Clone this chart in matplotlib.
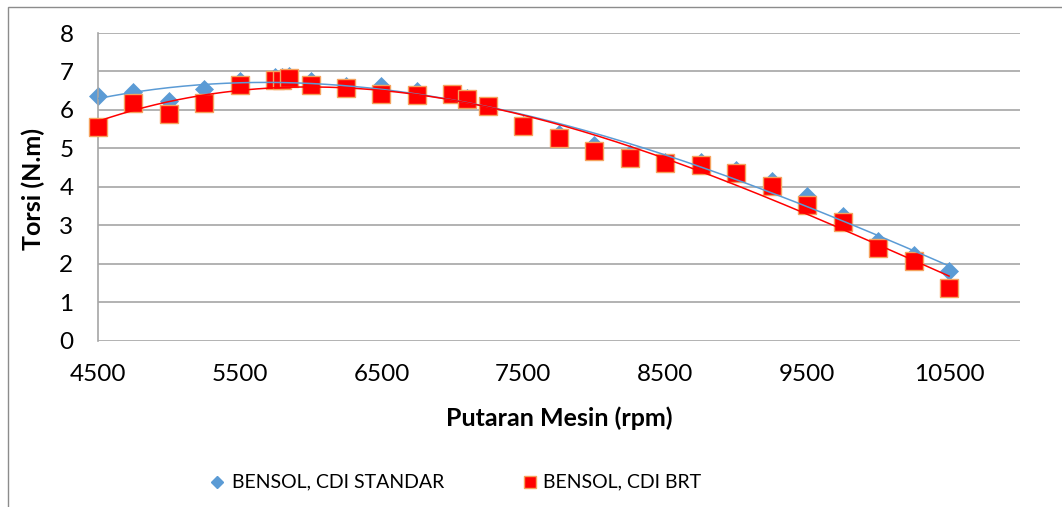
import numpy as np
import matplotlib
matplotlib.use("Agg")
import matplotlib.pyplot as plt
from matplotlib.lines import Line2D
from matplotlib.patches import Rectangle

rpm = [4500, 4750, 5000, 5250, 5500, 5750, 5800, 5850, 6000, 6250, 6500, 6750,
       7000, 7100, 7250, 7500, 7750, 8000, 8250, 8500, 8750, 9000, 9250, 9500,
       9750, 10000, 10250, 10500]
torsi_standar = [6.37, 6.47, 6.22, 6.55, 6.76, 6.85, 6.85, 6.87, 6.74, 6.63, 6.61, 6.49,
                 6.41, 6.30, 6.09, 5.60, 5.37, 5.10, 4.85, 4.65, 4.65, 4.44, 4.15, 3.76,
                 3.24, 2.59, 2.24, 1.82]
torsi_brt = [5.55, 6.19, 5.89, 6.19, 6.66, 6.79, 6.79, 6.83, 6.66, 6.57, 6.42, 6.40,
             6.42, 6.29, 6.09, 5.59, 5.27, 4.94, 4.75, 4.62, 4.56, 4.36, 4.01, 3.52,
             3.08, 2.42, 2.08, 1.38]
label_standar = "BENSOL, CDI STANDAR"
label_brt = "BENSOL, CDI BRT"
x_ticks = [4500, 5500, 6500, 7500, 8500, 9500, 10500]
y_ticks = [0, 1, 2, 3, 4, 5, 6, 7, 8]

plt.rcParams['font.family'] = ['Lato', 'DejaVu Sans']

W, H = 1062, 507
fig = plt.figure(figsize=(W / 100, H / 100), dpi=100)
fig.patch.set_facecolor('white')

# chart border
fig.add_artist(Rectangle((8 / W, -0.1), 1.2, 1 - 7 / H + 0.1, transform=fig.transFigure,
                         fill=False, edgecolor='#8c8c8c', linewidth=1.0))

left, right = 97.7 / W, 1020 / W
bottom, top = 1 - 340.7 / H, 1 - 33 / H
ax = fig.add_axes([left, bottom, right - left, top - bottom])

blue = '#5B9BD5'
red = '#FF0000'
orange_edge = '#F5A25D'

x = np.array(rpm, dtype=float)
xs = np.linspace(x.min(), x.max(), 300)
for vals, col in ((torsi_standar, blue), (torsi_brt, red)):
    c = np.polyfit(x, np.array(vals), 3)
    ax.plot(xs, np.polyval(c, xs), color=col, lw=1.1, zorder=4)

ax.plot(rpm, torsi_standar, linestyle='none', marker='D', ms=9, color=blue,
        markeredgecolor=blue, mew=0.5, zorder=2, clip_on=False)
ax.plot(rpm, torsi_brt, linestyle='none', marker='s', ms=13, color=red,
        markeredgecolor=orange_edge, mew=1.0, zorder=3, clip_on=False)

ax.set_xlim(4500, 11000)
ax.set_ylim(0, 8)
ax.set_xticks(x_ticks)
ax.set_yticks(y_ticks)
ax.grid(axis='y', color='#a6a6a6', lw=1.2)
ax.set_axisbelow(True)
for s in ('top', 'right', 'bottom'):
    ax.spines[s].set_visible(False)
ax.spines['left'].set_color('#a6a6a6')
ax.spines['left'].set_linewidth(1.2)
ax.tick_params(length=0, labelsize=17.5)
ax.tick_params(axis='x', pad=17)
ax.tick_params(axis='y', pad=17.5)

fig.text(559 / W, 1 - 418 / H, 'Putaran Mesin (rpm)', fontsize=18, fontweight='bold',
         ha='center', va='center')
fig.text(33 / W, 1 - 189 / H, 'Torsi (N.m)', fontsize=18, fontweight='bold',
         ha='center', va='center', rotation=90)

# legend
ly = 1 - 482 / H
fig.add_artist(Line2D([217 / W], [ly], linestyle='none', marker='D', ms=5.8, color=blue,
                      transform=fig.transFigure))
fig.add_artist(Line2D([530 / W], [ly], linestyle='none', marker='s', ms=8.5, color=red,
                      markeredgecolor=orange_edge, mew=1.0, transform=fig.transFigure))
fig.text(232 / W, ly, label_standar, fontsize=14, ha='left', va='center')
fig.text(543 / W, ly, label_brt, fontsize=14, ha='left', va='center')

fig.savefig('out.png', dpi=100)
